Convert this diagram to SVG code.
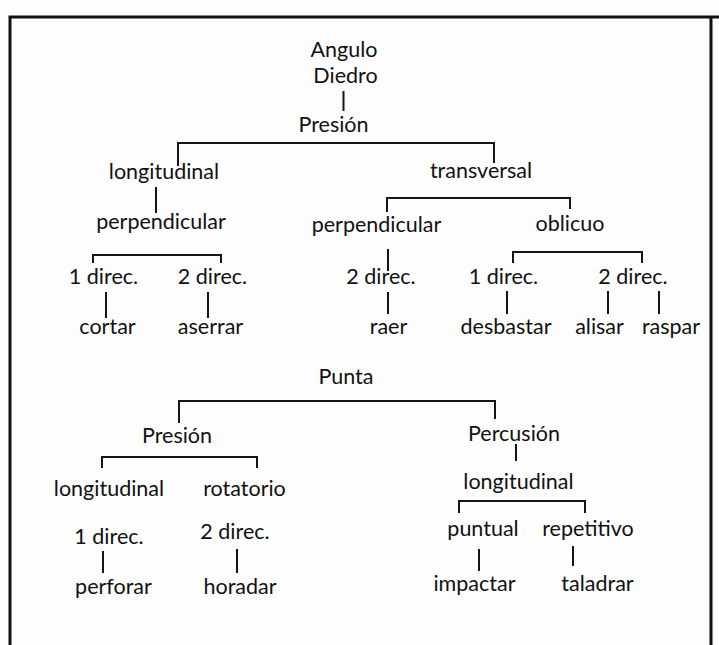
<svg xmlns="http://www.w3.org/2000/svg" width="719" height="645" viewBox="0 0 719 645">
<style>
text{font-family:Lato,"Open Sans","Liberation Sans",sans-serif;font-size:21.5px;fill:#111;text-anchor:middle}
.c{fill:none;stroke:#151515;stroke-width:2;stroke-linecap:square}
.f{fill:none;stroke:#111;stroke-width:3}
</style>
<rect x="0" y="0" width="719" height="645" fill="#fdfdfd"/>
<path class="f" d="M10 645 V17 H719 M711 17 V645"/>
<g id="connectors">
<path class="c" d="M343.5 92 V110"/>
<path class="c" d="M178 165 V143 H494 V162"/>
<path class="c" d="M156 188 V212"/>
<path class="c" d="M93 262 V255 H221 V262"/>
<path class="c" d="M106 293 V317"/>
<path class="c" d="M208 293 V317"/>
<path class="c" d="M387 211 V198 H570 V208"/>
<path class="c" d="M388 250 V270"/>
<path class="c" d="M388 293 V313"/>
<path class="c" d="M513 262 V252 H642 V262"/>
<path class="c" d="M507 292 V313"/>
<path class="c" d="M608 292 V313"/>
<path class="c" d="M659 292 V313"/>
<path class="c" d="M179 422 V401 H495 V418"/>
<path class="c" d="M102 467 V457 H257 V467"/>
<path class="c" d="M516 445 V460"/>
<path class="c" d="M459 512 V501 H585 V512"/>
<path class="c" d="M103 552 V572"/>
<path class="c" d="M237 550 V572"/>
<path class="c" d="M479 550 V570"/>
<path class="c" d="M573 547 V565"/>
</g>
<g id="n-angulo"><text x="344" y="57">Angulo</text><text x="345.5" y="83">Diedro</text></g>
<g id="n-presion1"><text x="333.5" y="132">Presión</text></g>
<g id="n-longitudinal1"><text x="164" y="179">longitudinal</text></g>
<g id="n-transversal"><text x="481" y="178">transversal</text></g>
<g id="n-perpendicular1"><text x="161" y="229">perpendicular</text></g>
<g id="n-perpendicular2"><text x="376.5" y="232">perpendicular</text></g>
<g id="n-oblicuo"><text x="570" y="231">oblicuo</text></g>
<g id="n-1direc-a"><text x="103.5" y="284">1 direc.</text></g>
<g id="n-2direc-a"><text x="212.5" y="284">2 direc.</text></g>
<g id="n-2direc-b"><text x="381" y="284">2 direc.</text></g>
<g id="n-1direc-c"><text x="503.5" y="284">1 direc.</text></g>
<g id="n-2direc-c"><text x="633" y="284">2 direc.</text></g>
<g id="n-cortar"><text x="107.5" y="334">cortar</text></g>
<g id="n-aserrar"><text x="210.5" y="334">aserrar</text></g>
<g id="n-raer"><text x="388.5" y="334">raer</text></g>
<g id="n-desbastar"><text x="506" y="334">desbastar</text></g>
<g id="n-alisar"><text x="599.5" y="334">alisar</text></g>
<g id="n-raspar"><text x="671" y="334">raspar</text></g>
<g id="n-punta"><text x="346" y="384">Punta</text></g>
<g id="n-presion2"><text x="177" y="443">Presión</text></g>
<g id="n-percusion"><text x="514" y="441">Percusión</text></g>
<g id="n-longitudinal2"><text x="109" y="496">longitudinal</text></g>
<g id="n-rotatorio"><text x="244.5" y="496">rotatorio</text></g>
<g id="n-longitudinal3"><text x="518.5" y="489">longitudinal</text></g>
<g id="n-1direc-d"><text x="109" y="544">1 direc.</text></g>
<g id="n-2direc-d"><text x="235" y="539">2 direc.</text></g>
<g id="n-perforar"><text x="113.5" y="594">perforar</text></g>
<g id="n-horadar"><text x="240" y="594">horadar</text></g>
<g id="n-puntual"><text x="483" y="536">puntual</text></g>
<g id="n-repetitivo"><text x="588" y="536">repetitivo</text></g>
<g id="n-impactar"><text x="474.5" y="591">impactar</text></g>
<g id="n-taladrar"><text x="597.5" y="591">taladrar</text></g>
</svg>
